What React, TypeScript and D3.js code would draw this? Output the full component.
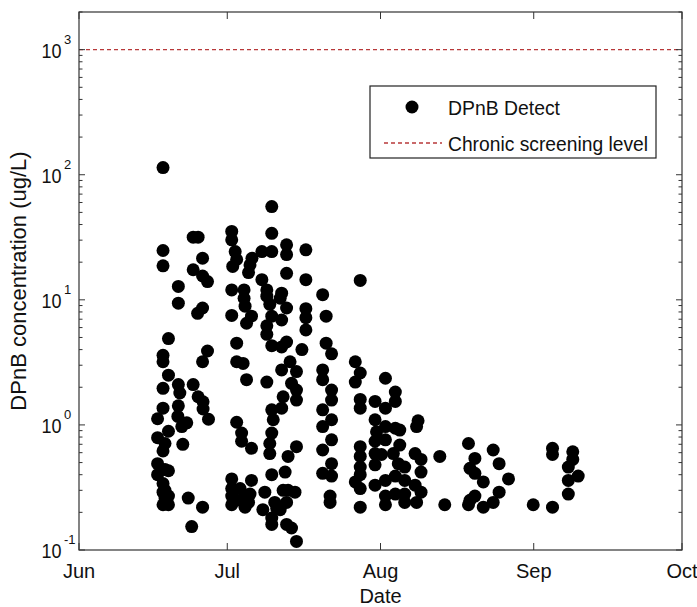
import React from "react";
import * as d3 from "d3";

const W = 697;
const H = 607;
const box = { left: 79, right: 682, top: 12, bottom: 550 };
const font = "'Liberation Sans', Arial, sans-serif";

const monthStarts = ["2013-06-01", "2013-07-01", "2013-08-01", "2013-09-01", "2013-10-01"];
const yLimits = [0.1, 2000];
const chronicScreeningLevel = 1000;

// [day of month (fractional = sampling time), DPnB ug/L]
const juneDetects: [number, number][] = [
  [16.9, 1.12], [16.9, 0.79], [16.9, 0.49], [16.9, 0.40],
  [18.0, 114], [18.0, 24.8], [18.0, 18.7], [18.0, 3.6], [18.0, 3.2], [18.0, 1.96],
  [18.0, 1.36], [18.0, 0.62], [18.0, 0.34], [18.0, 0.29], [18.0, 0.23],
  [18.4, 0.71], [18.4, 0.44], [18.4, 0.30], [18.4, 0.26],
  [19.1, 4.9], [19.1, 2.5], [19.1, 0.89], [19.1, 0.43], [19.1, 0.27], [19.1, 0.23],
  [21.1, 12.8], [21.1, 9.4], [21.1, 2.1], [21.4, 1.8], [21.1, 1.42], [21.0, 1.17],
  [21.8, 0.97], [22.0, 0.70], [22.8, 1.04], [23.1, 0.26], [23.8, 0.154],
  [24.1, 31.7], [24.1, 17.4], [24.1, 2.1],
  [25.1, 31.7], [25.0, 7.8], [25.1, 1.68],
  [26.0, 21.5], [26.0, 15.5], [26.0, 8.6], [26.0, 3.2], [26.1, 1.53], [26.1, 1.34], [26.0, 0.22],
  [27.0, 14], [27.0, 3.9], [27.2, 1.11],
];

const julyDetects: [number, number][] = [
  [1.9, 35.2], [1.9, 30.2], [1.9, 12], [1.9, 7.5], [1.9, 0.37], [1.9, 0.31], [1.9, 0.27], [1.9, 0.23],
  [2.6, 24.3], [2.9, 21], [2.1, 18.5],
  [2.9, 4.5], [2.9, 3.2], [2.9, 1.05], [3.9, 0.86], [3.9, 0.74], [3.6, 0.31], [3.6, 0.25],
  [4.2, 3.1], [4.4, 12], [4.4, 10.3], [4.6, 8.9], [4.9, 6.5], [4.9, 2.3], [4.6, 0.22], [4.9, 0.27],
  [5.3, 16.5], [5.3, 0.24], [5.6, 19], [5.6, 0.28], [5.9, 7.4], [5.9, 0.65], [5.9, 0.36], [6.0, 21.5],
  [8.0, 24.3], [8.0, 14.5], [8.2, 0.21], [8.6, 0.29],
  [9.0, 12], [9.0, 10.7], [9.0, 6.2], [9.0, 5.3], [9.0, 2.2], [9.6, 9.2], [9.6, 0.71], [9.6, 0.59],
  [10.0, 55.7], [10.0, 34], [10.0, 24.3], [10.0, 7.4], [10.0, 4.3], [10.0, 1.32], [10.0, 0.86],
  [10.0, 0.40], [10.0, 0.18], [10.0, 0.16], [10.3, 1.1], [10.6, 0.24], [11.0, 0.215],
  [11.7, 10.3], [11.7, 0.21], [12.0, 11.3], [12.0, 6.9], [12.0, 4.2], [12.0, 2.75], [12.0, 1.36],
  [12.3, 1.68], [12.3, 0.30], [12.7, 0.42],
  [13.0, 27.5], [13.0, 23], [13.0, 16.3], [13.0, 8.6], [13.0, 4.6], [13.0, 0.24], [13.0, 0.16],
  [13.3, 0.56], [13.3, 0.30], [13.7, 3.2], [14.0, 2.15], [14.0, 0.15], [14.7, 0.29],
  [15.0, 2.67], [15.0, 1.9], [15.0, 1.58], [15.0, 0.67], [15.0, 0.117],
  [16.1, 4.0], [16.9, 25.1], [16.9, 14.5], [16.9, 8.5], [16.9, 7.2], [16.9, 5.75],
  [20.3, 11], [20.3, 2.75], [20.3, 2.3], [20.3, 1.32], [20.3, 0.97], [20.3, 0.63], [20.3, 0.41],
  [21.0, 7.4], [21.0, 4.5], [21.8, 0.27], [21.8, 0.24],
  [22.1, 3.7], [22.1, 1.9], [22.1, 1.58], [22.1, 1.1], [22.1, 0.76], [22.1, 0.49], [22.1, 0.39],
  [26.9, 3.2], [26.9, 2.2], [26.9, 0.35],
  [27.9, 14.3], [27.9, 2.6], [27.9, 1.6], [27.9, 1.36], [27.9, 0.67], [27.9, 0.56], [27.9, 0.46],
  [27.9, 0.40], [27.9, 0.31], [27.9, 0.22],
  [30.9, 1.54], [30.9, 1.1], [30.9, 0.74], [30.9, 0.59], [30.9, 0.48], [30.9, 0.33], [31.2, 0.88],
];

const augustDetects: [number, number][] = [
  [1.2, 0.58], [2.0, 2.36], [2.0, 1.36], [2.0, 0.97], [2.0, 0.76], [2.0, 0.36], [2.0, 0.27], [2.0, 0.23],
  [3.6, 0.59], [4.0, 1.83], [4.0, 1.54], [4.0, 0.94], [4.0, 0.39], [4.0, 0.28], [4.6, 0.49],
  [4.9, 0.91], [4.9, 0.69], [5.9, 0.46], [5.9, 0.36], [5.9, 0.28], [5.9, 0.24],
  [8.0, 0.59], [8.0, 0.33], [8.3, 0.97], [8.3, 0.24], [8.6, 1.08], [9.2, 0.53], [9.2, 0.42], [9.2, 0.29],
  [13.0, 0.56], [14.0, 0.23],
  [18.8, 0.71], [18.8, 0.23], [19.1, 0.45], [19.1, 0.25], [20.1, 0.54], [20.1, 0.41], [20.1, 0.27],
  [21.8, 0.35], [21.8, 0.22], [23.8, 0.63], [23.8, 0.24], [25.0, 0.49], [25.0, 0.29], [26.9, 0.37],
];

const septemberDetects: [number, number][] = [
  [0.9, 0.23], [4.8, 0.65], [4.8, 0.58], [4.8, 0.22],
  [8.0, 0.46], [8.0, 0.36], [8.0, 0.28], [8.9, 0.61], [8.9, 0.53], [10.0, 0.39],
];

const toDate = (month: number, day: number) =>
  new Date(Date.UTC(2013, month, 1) + (day - 1) * 864e5);

const detects = [
  ...juneDetects.map(([d, v]) => ({ date: toDate(5, d), value: v })),
  ...julyDetects.map(([d, v]) => ({ date: toDate(6, d), value: v })),
  ...augustDetects.map(([d, v]) => ({ date: toDate(7, d), value: v })),
  ...septemberDetects.map(([d, v]) => ({ date: toDate(8, d), value: v })),
];

export default function App() {
  const months = monthStarts.map((s) => new Date(s + "T00:00:00Z"));
  const x = d3.scaleUtc().domain([months[0], months[months.length - 1]]).range([box.left, box.right]);
  const y = d3.scaleLog().domain(yLimits).range([box.bottom, box.top]);
  const fmt = d3.utcFormat("%b");

  const logTicks = y.ticks().filter((t) => t >= yLimits[0] && t <= yLimits[1]);
  const isMajor = (t: number) => Math.abs(Math.log10(t) - Math.round(Math.log10(t))) < 1e-9;
  const axisColor = "#333";

  return (
    <svg width={W} height={H} style={{ position: "absolute", left: 0, top: 0, background: "#fff" }}
      fontFamily={font}>
      <rect x={0} y={0} width={W} height={H} fill="#fff" />

      {/* screening level */}
      <line x1={box.left} x2={box.right} y1={y(chronicScreeningLevel)} y2={y(chronicScreeningLevel)}
        stroke="#b8393a" strokeWidth={1.3} strokeDasharray="4,3" />

      {detects.map((d, i) => (
        <circle key={i} cx={x(d.date)} cy={y(d.value)} r={6.5} fill="#000" />
      ))}

      {/* frame */}
      <rect x={box.left} y={box.top} width={box.right - box.left} height={box.bottom - box.top}
        fill="none" stroke={axisColor} strokeWidth={1.2} />

      {/* log ticks on left and right */}
      {logTicks.map((t, i) => {
        const len = isMajor(t) ? 6 : 3.5;
        const yy = y(t);
        return (
          <g key={i} stroke={axisColor} strokeWidth={1}>
            <line x1={box.left} x2={box.left + len} y1={yy} y2={yy} />
            <line x1={box.right} x2={box.right - len} y1={yy} y2={yy} />
          </g>
        );
      })}
      {logTicks.filter(isMajor).map((t, i) => {
        const e = Math.round(Math.log10(t));
        const yy = y(t);
        return (
          <g key={i} fill="#111">
            <text x={61.5} y={yy + 8} fontSize={21} textAnchor="end" textLength={20}
              lengthAdjust="spacingAndGlyphs">10</text>
            <text x={64} y={yy - 6} fontSize={13}>{e}</text>
          </g>
        );
      })}

      {/* month ticks bottom and top */}
      {months.map((m, i) => {
        const xx = x(m);
        return (
          <g key={i}>
            <line x1={xx} x2={xx} y1={box.bottom} y2={box.bottom - 7} stroke={axisColor} />
            <line x1={xx} x2={xx} y1={box.top} y2={box.top + 7} stroke={axisColor} />
            <text x={xx} y={578} fontSize={20} textAnchor="middle" fill="#111">{fmt(m)}</text>
          </g>
        );
      })}

      <text x={(box.left + box.right) / 2} y={603} fontSize={20} textAnchor="middle" fill="#111">Date</text>
      <text transform={`translate(26,${(box.top + box.bottom) / 2}) rotate(-90)`} fontSize={22}
        textAnchor="middle" fill="#111">DPnB concentration (ug/L)</text>

      {/* legend */}
      <g>
        <rect x={370} y={86} width={286} height={72} fill="#fff" stroke="#222" strokeWidth={1.2} />
        <circle cx={412} cy={107} r={6.5} fill="#000" />
        <text x={448} y={115} fontSize={21} fill="#111" textLength={112}
          lengthAdjust="spacingAndGlyphs">DPnB Detect</text>
        <line x1={384} x2={442} y1={143} y2={143} stroke="#b8393a" strokeWidth={1.3} strokeDasharray="4,3" />
        <text x={448} y={151} fontSize={21} fill="#111" textLength={200}
          lengthAdjust="spacingAndGlyphs">Chronic screening level</text>
      </g>
    </svg>
  );
}
